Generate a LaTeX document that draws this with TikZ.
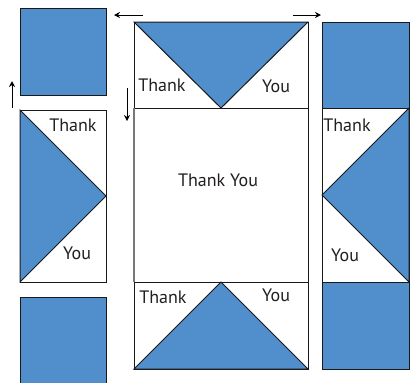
\documentclass[tikz,border=0pt]{standalone}
\usepackage{fontspec}
\setmainfont{PT Sans}
\usetikzlibrary{arrows.meta, positioning}
\definecolor{quiltblue}{RGB}{80,142,204}
\definecolor{quiltline}{RGB}{25,25,25}
\definecolor{quiltgray}{RGB}{120,120,120}
\definecolor{quilttext}{RGB}{35,31,32}
\tikzset{
  patch/.style={draw=quiltline, fill=white, line width=0.5pt},
  bluepatch/.style={draw=quiltline, fill=quiltblue, line width=0.5pt, line join=miter},
  word/.style={font=\fontsize{9}{11}\selectfont, text=quilttext, inner sep=0pt, anchor=base},
  arrow/.style={-{Stealth[length=3pt, width=3pt]}, line width=0.5pt, color=black}
}

\begin{document}
\begin{tikzpicture}[x=0.5pt, y=-0.5pt]
  % Frame of the picture
  \clip (0,0) rectangle (417,382);
  \useasboundingbox (0,0) rectangle (417,382);

  % Left column
  \draw[bluepatch] (20,8) rectangle (106,95);
  \draw[patch] (20,110) rectangle (106,282);
  \draw[bluepatch] (20,110) -- (106,196) -- (20,282) -- cycle;
  \draw[bluepatch] (20,297) rectangle (106,400);
  \node[word] (lthank) at (73,131) {Thank};
  \node[word] (lyou) at (77,259) {You};

  % Centre column
  \draw[patch] (134,22) rectangle (308,108);
  \draw[bluepatch] (134,22) -- (308,22) -- (221,108) -- cycle;
  \draw[patch] (134,108) rectangle (308,282);
  \draw[quiltgray, line width=0.9pt] (134,108) -- (134,282);
  \draw[patch] (134,282) rectangle (308,369);
  \draw[bluepatch] (134,369) -- (221,282) -- (308,369) -- cycle;
  \node[word] (cthank) at (162,91) {Thank};
  \node[word] (cyou) at (276,92) {You};
  \node[word] (centre) at (218,186) {Thank You};
  \node[word] (bthank) at (163,303) {Thank};
  \node[word] (byou) at (276,301) {You};

  % Right column
  \draw[bluepatch] (322,22) rectangle (409,108);
  \draw[patch] (322,108) rectangle (409,282);
  \draw[bluepatch] (409,108) -- (322,195) -- (409,282) -- cycle;
  \draw[bluepatch] (322,282) rectangle (409,369);
  \node[word] (rthank) at (347,131) {Thank};
  \node[word] (ryou) at (345,261) {You};

  % Moves
  \coordinate (tl1) at (143,15);
  \coordinate (tl2) at (114,15);
  \coordinate (tr1) at (293,15);
  \coordinate (tr2) at (321,15);
  \coordinate (lu1) at (12,108);
  \coordinate (lu2) at (12,81);
  \coordinate (cd1) at (127,88);
  \coordinate (cd2) at (127,121);
  \draw[arrow] (tl1) -- (tl2);
  \draw[arrow] (tr1) -- (tr2);
  \draw[arrow] (lu1) -- (lu2);
  \draw[arrow] (cd1) -- (cd2);
\end{tikzpicture}
\end{document}
